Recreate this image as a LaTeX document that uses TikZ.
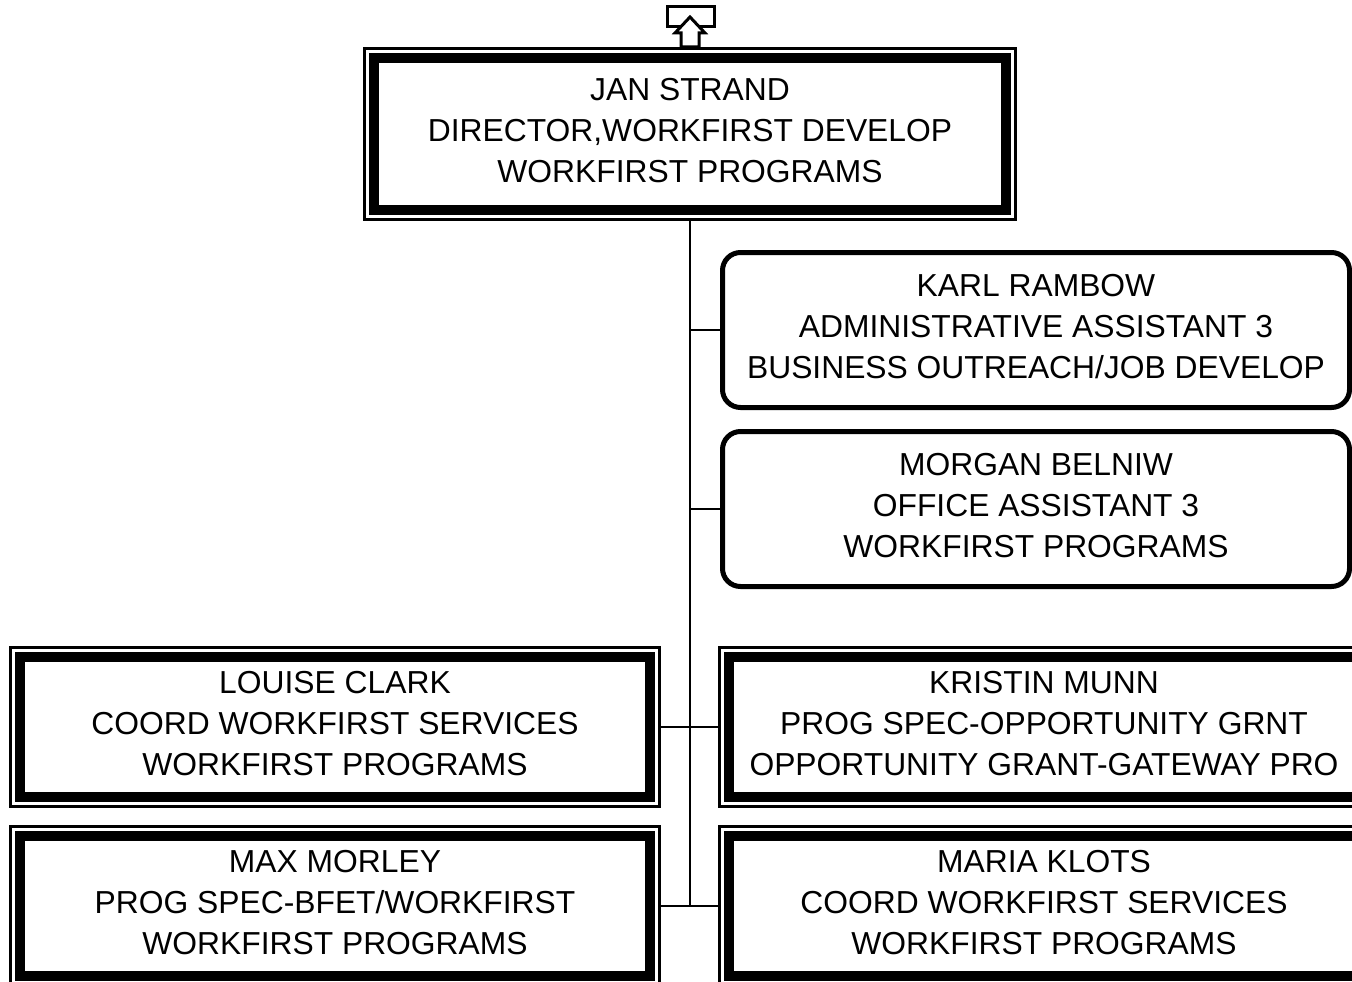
\documentclass[tikz,border=0pt]{standalone}
\usepackage{fontspec}
\setmainfont{Liberation Sans}
\usepackage{tikz}
\usetikzlibrary{positioning}

\begin{document}
\begin{tikzpicture}[
  x=1pt,y=-1pt,
  box/.style={align=center,font=\fontsize{31.8pt}{41pt}\selectfont,inner sep=0pt,text depth=8pt},
  dbox/.style={box,draw,fill=white,line width=10pt,outer sep=11pt,minimum width=630pt,minimum height=140pt,
    preaction={draw,line width=22pt},preaction={draw,white,line width=16pt}},
  rbox/.style={box,draw,line width=5pt,rounded corners=18pt,minimum width=627pt,minimum height=155pt},
  link/.style={line width=2pt}
]
\useasboundingbox (0,0) rectangle (1352,982);
\clip (0,0) rectangle (1352,982);
\draw[line width=3pt] (667,7) rectangle (714,27);
\draw[line width=3pt,fill=white] (690,17) -- (705,33) -- (699,33) -- (699,47) -- (681,47) -- (681,33) -- (675,33) -- cycle;
\node[dbox,minimum width=632pt,minimum height=152pt] (strand) at (690,134) {JAN STRAND\\DIRECTOR,WORKFIRST DEVELOP\\WORKFIRST PROGRAMS};
\node[rbox] (rambow) at (1036,330) {KARL RAMBOW\\ADMINISTRATIVE ASSISTANT 3\\BUSINESS OUTREACH/JOB DEVELOP};
\node[rbox,below=19pt of rambow] (belniw) {MORGAN BELNIW\\OFFICE ASSISTANT 3\\WORKFIRST PROGRAMS};
\node[dbox] (clark) at (335,727) {LOUISE CLARK\\COORD WORKFIRST SERVICES\\WORKFIRST PROGRAMS};
\node[dbox,right=57pt of clark] (munn) {KRISTIN MUNN\\PROG SPEC-OPPORTUNITY GRNT\\OPPORTUNITY GRANT-GATEWAY PRO};
\node[dbox,below=17pt of clark] (morley) {MAX MORLEY\\PROG SPEC-BFET/WORKFIRST\\WORKFIRST PROGRAMS};
\node[dbox,right=57pt of morley] (klots) {MARIA KLOTS\\COORD WORKFIRST SERVICES\\WORKFIRST PROGRAMS};
\coordinate (trunk) at (strand.south |- klots.west);
\draw[link] (strand.south) -- (trunk);
\draw[link] (rambow.west) -- (rambow.west -| trunk);
\draw[link] (belniw.west) -- (belniw.west -| trunk);
\draw[link] (clark.east) -- (munn.west);
\draw[link] (morley.east) -- (klots.west);
\end{tikzpicture}
\end{document}
